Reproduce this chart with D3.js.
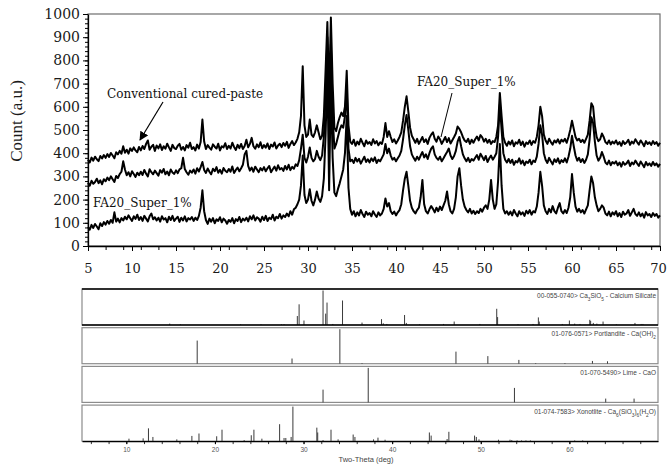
<!DOCTYPE html>
<html>
<head>
<meta charset="utf-8">
<script src="https://cdn.jsdelivr.net/npm/d3@7/dist/d3.min.js"></script>
<style>
  body { margin: 0; background: #fff; }
  svg { display: block; }
</style>
</head>
<body>
<svg id="chart" width="667" height="466"></svg>
<script>
// two-theta grid of the scans: 5 to 70 deg in 0.2 deg steps
const thetaStart = 5;
const thetaStep = 0.2;

// top scan - conventional cured paste (counts)
const topPattern = [
  372,360,381,368,385,374,366,388,377,392,
  380,396,384,401,390,378,404,395,410,398,
  430,402,415,398,421,410,425,412,404,427,
  412,431,418,440,455,415,428,436,410,433,
  421,438,414,430,419,441,425,410,436,422,
  418,432,440,415,427,412,435,424,445,418,
  426,412,437,420,448,545,450,418,435,424,
  415,438,428,420,441,412,430,425,443,418,
  432,420,445,427,414,436,422,440,418,431,
  458,425,440,466,430,419,438,426,447,421,
  435,424,442,418,437,429,446,420,433,441,
  426,444,432,449,423,440,452,435,446,462,
  490,560,775,520,470,480,545,480,470,490,
  520,490,460,475,560,760,965,640,985,700,
  510,495,530,555,575,560,600,755,520,450,
  440,458,432,450,438,462,445,430,455,441,
  448,436,460,442,452,434,447,440,470,530,
  470,495,470,448,460,442,455,470,490,540,
  600,645,580,510,475,460,445,462,440,455,
  470,448,460,440,466,480,490,462,450,472,
  460,440,455,470,448,465,442,456,470,485,
  515,505,490,470,455,448,462,440,458,445,
  460,472,455,478,468,450,462,445,458,440,
  452,448,470,520,660,560,470,445,432,450,
  438,455,430,447,441,458,435,450,428,446,
  440,455,436,452,445,470,520,600,560,480,
  455,440,462,448,437,455,446,460,442,458,
  450,462,445,470,500,540,505,470,455,462,
  448,458,445,462,480,540,615,600,520,470,
  452,460,485,470,448,440,455,438,450,442,
  455,438,448,432,452,440,446,458,436,450,
  442,460,448,437,455,444,430,452,440,447,
  436,452,440,448,432,445
];

// middle scan
const middlePattern = [
  272,260,281,268,276,290,271,283,266,288,
  279,295,284,300,288,276,302,293,310,320,
  365,330,305,318,300,322,310,298,316,305,
  320,306,328,312,300,331,318,309,325,314,
  303,327,316,332,309,321,305,330,317,311,
  326,314,330,335,380,332,318,307,325,316,
  330,312,335,321,340,362,328,315,334,320,
  309,333,322,340,316,328,312,336,324,318,
  332,320,343,315,328,338,322,335,350,395,
  410,345,325,338,320,342,330,318,336,326,
  340,322,335,345,318,331,342,325,348,330,
  336,324,345,330,350,327,341,333,352,345,
  370,420,480,380,360,385,425,380,365,375,
  410,385,370,390,470,650,900,520,870,560,
  420,440,470,500,520,510,560,680,420,365,
  372,358,380,364,376,355,370,385,362,374,
  360,378,366,382,358,372,365,380,395,440,
  400,420,390,372,380,365,378,390,410,460,
  520,565,500,430,395,380,368,385,372,390,
  405,382,395,375,400,420,430,395,380,372,
  385,365,378,392,405,420,390,375,388,410,
  450,470,430,395,378,365,380,362,375,368,
  380,392,372,398,385,370,388,362,378,390,
  372,385,400,470,610,500,400,372,360,375,
  358,372,350,366,360,378,355,368,348,364,
  358,372,352,368,362,385,440,520,480,400,
  372,358,380,365,352,374,362,378,356,370,
  362,378,360,385,420,475,430,390,368,380,
  362,375,358,372,395,460,555,530,450,390,
  368,380,405,385,360,352,368,348,362,355,
  365,348,360,342,362,350,356,368,345,360,
  352,368,356,345,364,352,340,362,348,356,
  345,362,348,356,342,354
];

// bottom scan - FA20_Super_1%
const bottomPattern = [
  82,70,91,78,95,84,72,98,86,103,
  92,108,96,112,100,145,105,118,102,120,
  110,126,115,132,120,108,128,117,135,112,
  125,108,130,118,106,128,140,115,124,110,
  122,105,128,114,120,102,126,112,130,108,
  118,126,104,122,110,128,106,120,114,125,
  108,122,112,130,165,240,150,112,95,118,
  105,120,98,115,108,124,102,118,110,96,
  112,104,120,98,116,108,125,103,118,110,
  122,106,128,115,132,110,124,118,105,126,
  112,130,108,122,116,135,110,126,120,138,
  118,132,125,140,128,150,135,158,165,180,
  200,260,390,220,185,200,245,195,175,200,
  235,205,190,215,290,480,760,240,700,380,
  230,215,245,270,300,330,400,560,250,160,
  135,150,128,145,132,155,138,125,148,135,
  142,128,150,136,125,145,132,140,160,205,
  170,185,150,138,148,132,145,155,180,240,
  290,320,260,195,165,150,140,155,165,210,
  285,180,150,140,158,172,160,145,165,150,
  170,155,175,195,235,180,150,140,160,210,
  300,335,260,200,170,155,145,160,140,152,
  138,150,142,160,148,165,175,160,200,285,
  200,160,180,280,440,260,160,140,150,135,
  148,132,155,140,128,150,136,145,130,152,
  140,155,135,150,145,170,230,320,260,175,
  150,138,160,145,172,150,140,165,185,150,
  140,155,142,165,210,310,230,170,148,160,
  145,155,140,158,175,240,300,270,210,175,
  150,160,175,165,140,132,148,128,145,135,
  150,128,142,125,148,135,140,155,130,145,
  160,138,130,145,128,140,122,146,132,138,
  125,142,130,138,122,132
];

// axis ticks
const countTicks = [0, 100, 200, 300, 400, 500, 600, 700, 800, 900, 1000];
const thetaTicks = [5, 10, 15, 20, 25, 30, 35, 40, 45, 50, 55, 60, 65, 70];
const refThetaTicks = [10, 20, 30, 40, 50, 60];

// reference stick patterns: [two-theta, relative intensity %]
const calciumSilicateSticks = [
  [14.9, 4], [16.1, 2], [22.9, 2], [25.2, 2], [27.5, 2], [27.8, 2],
  [29.3, 26], [29.5, 60], [30.05, 13], [32.2, 100], [32.5, 33], [32.65, 65],
  [33.3, 3], [34.4, 71], [36.6, 7], [38.8, 17], [39.0, 5], [39.4, 3],
  [41.4, 29], [41.6, 6], [43.1, 2], [45.8, 3], [47.0, 10], [49.9, 3],
  [51.8, 47], [51.9, 23], [54.2, 2], [55.9, 3], [56.5, 22], [56.6, 10],
  [59.2, 3], [60.0, 13], [60.6, 4], [61.2, 3], [62.3, 15], [62.4, 12],
  [62.7, 6], [63.1, 4], [63.8, 10], [65.3, 2], [67.4, 6], [68.1, 3], [68.3, 3]
];
const portlanditeSticks = [
  [18.0, 67], [28.7, 15], [34.1, 100], [36.6, 2], [47.2, 35], [50.8, 22],
  [54.3, 11], [56.2, 2], [59.5, 2], [62.6, 8], [64.3, 7]
];
const limeSticks = [
  [32.2, 37], [37.3, 100], [53.8, 42], [64.1, 11], [67.3, 11]
];
const xonotliteSticks = [
  [10.3, 7], [11.9, 8], [12.5, 37], [13.0, 12], [15.7, 5], [17.4, 15],
  [18.2, 22], [20.2, 14], [20.8, 33], [23.3, 3], [24.1, 17], [24.4, 33],
  [25.3, 7], [27.3, 49], [27.8, 9], [28.0, 9], [28.6, 12], [28.8, 100],
  [31.5, 39], [31.6, 25], [32.2, 3], [33.1, 33], [33.9, 5], [35.6, 19],
  [35.8, 12], [37.9, 5], [38.4, 10], [39.2, 4], [44.2, 25], [44.4, 16],
  [46.2, 6], [46.4, 27], [49.3, 16], [49.5, 12], [49.8, 5], [52.0, 4],
  [53.3, 4], [53.5, 3], [54.1, 2], [54.6, 2], [55.1, 2], [55.6, 2],
  [60.6, 2], [61.5, 2]
];

// card labels (segments, sub = subscript)
const cardLabels = [
  [["00-055-0740> Ca"], ["3", "sub"], ["SiO"], ["5", "sub"], [" - Calcium Silicate"]],
  [["01-076-0571> Portlandite - Ca(OH)"], ["2", "sub"]],
  [["01-070-5490> Lime - CaO"]],
  [["01-074-7583> Xonotlite - Ca"], ["6", "sub"], ["(SiO"], ["3", "sub"], [")"], ["6", "sub"], ["(H"], ["2", "sub"], ["O)"]]
];
const cardSticks = [calciumSilicateSticks, portlanditeSticks, limeSticks, xonotliteSticks];

let svg = d3.select("#chart");
let serif = "'DejaVu Serif', serif";
let sans = "'Liberation Sans', Arial, sans-serif";

// ---------- main XRD plot ----------
let plot = {left: 88, right: 660, top: 14, bottom: 246};

let xMain = d3.scaleLinear().domain([5, 70]).range([plot.left, plot.right]);
let yMain = d3.scaleLinear().domain([0, 1000]).range([plot.bottom, plot.top]);

// plot frame
svg.append("rect")
  .attr("x", plot.left)
  .attr("y", plot.top)
  .attr("width", plot.right - plot.left)
  .attr("height", plot.bottom - plot.top)
  .attr("fill", "none")
  .attr("stroke", "#6e6e6e")
  .attr("stroke-width", 1.2);

let line = d3.line()
  .x((d, i) => xMain(thetaStart + i * thetaStep))
  .y(d => yMain(d))
  .curve(d3.curveLinear);

[topPattern, middlePattern, bottomPattern].forEach(function(series) {
  svg.append("path")
    .attr("d", line(series))
    .attr("fill", "none")
    .attr("stroke", "#000")
    .attr("stroke-width", 2)
    .attr("stroke-linejoin", "round");
});

// y axis, minor ticks every 20
svg.append("g")
  .attr("transform", `translate(${plot.left},0)`)
  .call(d3.axisLeft(yMain).tickValues(d3.range(0, 1000, 20)).tickSize(3).tickSizeOuter(0).tickFormat(""))
  .call(g => g.select(".domain").remove())
  .selectAll("line").attr("stroke", "#000");

let yAxis = svg.append("g")
  .attr("transform", `translate(${plot.left},0)`)
  .call(d3.axisLeft(yMain).tickValues(countTicks).tickSize(5).tickSizeOuter(0).tickPadding(3).tickFormat(d3.format("d")));
yAxis.select(".domain").attr("stroke", "#000").attr("stroke-width", 1.3);
yAxis.selectAll("text")
  .style("font-family", serif)
  .style("font-size", "14px")
  .attr("fill", "#1a1a1a");

// x axis, minor ticks every 2 deg from 5
svg.append("g")
  .attr("transform", `translate(0,${plot.bottom})`)
  .call(d3.axisBottom(xMain).tickValues(d3.range(5, 70, 2)).tickSize(4).tickSizeOuter(0).tickFormat(""))
  .call(g => g.select(".domain").remove())
  .selectAll("line").attr("stroke", "#000");

let xAxis = svg.append("g")
  .attr("transform", `translate(0,${plot.bottom})`)
  .call(d3.axisBottom(xMain).tickValues(thetaTicks).tickSize(5).tickSizeOuter(0).tickPadding(13));
xAxis.select(".domain").attr("stroke", "#000").attr("stroke-width", 1.3);
xAxis.selectAll("text")
  .style("font-family", serif)
  .style("font-size", "13px")
  .attr("fill", "#1a1a1a");
// last label sits at the right edge of the picture
xAxis.selectAll(".tick").filter(d => d === 70).select("text").attr("dx", "-2");

// y axis title
svg.append("text")
  .attr("transform", "translate(22,121) rotate(-90)")
  .attr("text-anchor", "middle")
  .style("font-family", "'Liberation Serif', serif")
  .style("font-size", "17px")
  .attr("fill", "#1a1a1a")
  .text("Count (a.u.)");

// annotations
svg.append("defs").append("marker")
  .attr("id", "arrowhead")
  .attr("viewBox", "0 0 10 10")
  .attr("refX", 9)
  .attr("refY", 5)
  .attr("markerWidth", 9)
  .attr("markerHeight", 9)
  .attr("markerUnits", "userSpaceOnUse")
  .attr("orient", "auto")
  .append("path")
  .attr("d", "M0,0 L10,5 L0,10 Z")
  .attr("fill", "#000");

svg.append("text")
  .attr("x", 107)
  .attr("y", 98)
  .style("font-family", serif)
  .style("font-size", "12px")
  .attr("fill", "#111")
  .text("Conventional cured-paste");

svg.append("line")
  .attr("x1", 163).attr("y1", 102)
  .attr("x2", 140).attr("y2", 140)
  .attr("stroke", "#000")
  .attr("stroke-width", 1.2)
  .attr("marker-end", "url(#arrowhead)");

svg.append("text")
  .attr("x", 93)
  .attr("y", 207)
  .style("font-family", serif)
  .style("font-size", "12px")
  .attr("fill", "#111")
  .text("FA20_Super_1%");

svg.append("text")
  .attr("x", 417)
  .attr("y", 86)
  .style("font-family", serif)
  .style("font-size", "12px")
  .attr("fill", "#111")
  .text("FA20_Super_1%");

svg.append("line")
  .attr("x1", 452).attr("y1", 93)
  .attr("x2", 441).attr("y2", 137)
  .attr("stroke", "#000")
  .attr("stroke-width", 1);

// ---------- reference cards ----------
let xRef = d3.scaleLinear().domain([5, 70]).range([82, 658]);
let cardTop = 289;
let cardHeight = 36;
let cardStep = 38.7;

cardSticks.forEach(function(sticks, i) {
  let top = cardTop + i * cardStep;
  let bottom = top + cardHeight;
  let yRef = d3.scaleLinear().domain([0, 100]).range([bottom, top + 1.5]);

  let card = svg.append("g").attr("class", "card");

  card.append("rect")
    .attr("x", xRef.range()[0])
    .attr("y", top)
    .attr("width", xRef.range()[1] - xRef.range()[0])
    .attr("height", cardHeight)
    .attr("fill", "none")
    .attr("stroke", "#8c8c8c")
    .attr("stroke-width", 1.2);

  card.selectAll(".stick")
    .data(sticks)
    .enter()
    .append("line")
    .attr("class", "stick")
    .attr("x1", d => xRef(d[0]))
    .attr("x2", d => xRef(d[0]))
    .attr("y1", yRef(0))
    .attr("y2", d => yRef(d[1]))
    .attr("stroke", "#3a3a3a")
    .attr("stroke-width", 1);

  // first card is outlined in black top and bottom
  if (i === 0) {
    card.append("line")
      .attr("x1", xRef.range()[0]).attr("x2", xRef.range()[1])
      .attr("y1", top).attr("y2", top)
      .attr("stroke", "#000").attr("stroke-width", 1.6);
    card.append("line")
      .attr("x1", xRef.range()[0]).attr("x2", xRef.range()[1])
      .attr("y1", bottom).attr("y2", bottom)
      .attr("stroke", "#000").attr("stroke-width", 1.6);
  }

  let label = card.append("text")
    .attr("x", xRef.range()[1] - 2)
    .attr("y", top + 8.5)
    .attr("text-anchor", "end")
    .style("font-family", sans)
    .style("font-size", "6.5px")
    .attr("fill", "#444");

  cardLabels[i].forEach(function(seg) {
    let t = label.append("tspan").text(seg[0]);
    if (seg[1] === "sub") {
      t.attr("baseline-shift", "sub").style("font-size", "4.8px");
    }
  });
});

// shared two-theta axis under the cards
let refBottom = cardTop + 3 * cardStep + cardHeight;

svg.append("g")
  .attr("transform", `translate(0,${refBottom})`)
  .call(d3.axisBottom(xRef).tickValues(d3.range(6, 70, 2)).tickSize(3).tickSizeOuter(0).tickFormat(""))
  .call(g => g.select(".domain").remove())
  .selectAll("line").attr("stroke", "#333");

let refAxis = svg.append("g")
  .attr("transform", `translate(0,${refBottom})`)
  .call(d3.axisBottom(xRef).tickValues(refThetaTicks).tickSize(3).tickSizeOuter(0).tickPadding(3));
refAxis.select(".domain").attr("stroke", "#000").attr("stroke-width", 1.4);
refAxis.selectAll("text")
  .style("font-family", sans)
  .style("font-size", "6.5px")
  .attr("fill", "#555");

svg.append("text")
  .attr("x", 366)
  .attr("y", 462)
  .attr("text-anchor", "middle")
  .style("font-family", sans)
  .style("font-size", "7.5px")
  .attr("fill", "#444")
  .text("Two-Theta (deg)");
</script>
</body>
</html>
